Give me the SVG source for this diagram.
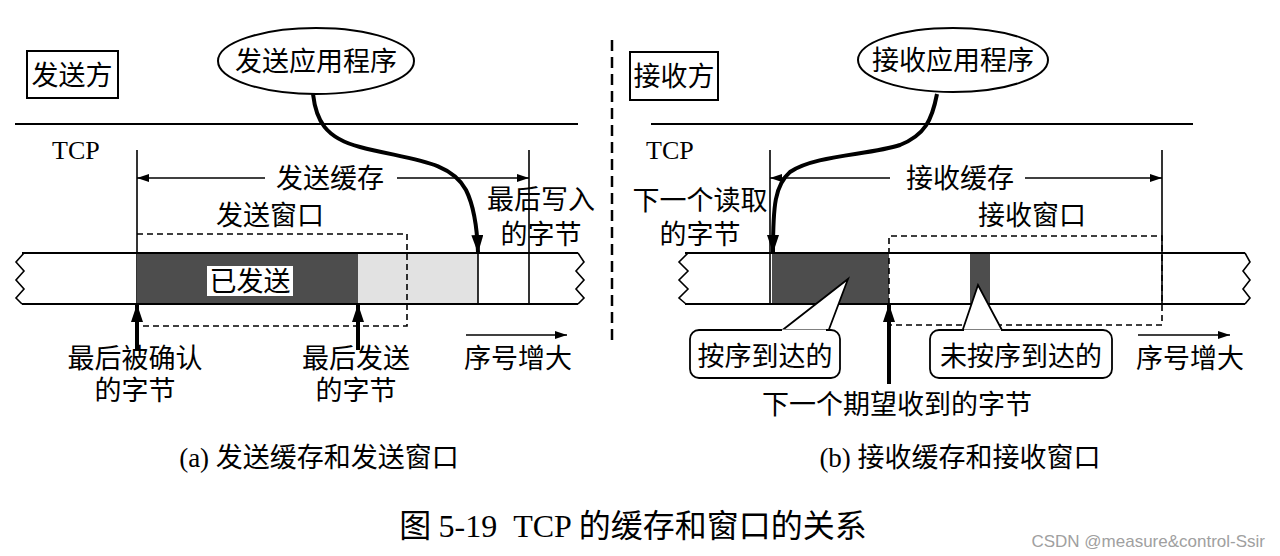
<svg xmlns="http://www.w3.org/2000/svg" width="1280" height="556" viewBox="0 0 1280 556">
<style>
.bg{fill:#fff}
.ln{stroke:#000;stroke-width:2;fill:none}
.thin{stroke:#000;stroke-width:1.6;fill:none}
.dash{stroke:#000;stroke-width:1.6;fill:none;stroke-dasharray:6 4}
.thick{stroke:#000;stroke-width:4;fill:none}
.cn{font-family:"Noto Sans CJK SC","Noto Sans CJK JP",sans-serif;font-size:27px;fill:#000;text-anchor:middle}
.tm{font-family:"Liberation Serif",serif;font-size:26px;fill:#000}
.cap{font-size:27px;fill:#000;text-anchor:middle}
.f-cn{font-family:"Noto Sans CJK SC","Noto Sans CJK JP",sans-serif}
.f-tm{font-family:"Liberation Serif",serif}
.dark{fill:#4d4d4d}
.light{fill:#e2e2e2}
.call{fill:#fff;stroke:#000;stroke-width:1.8}
</style>
<defs>
<marker id="ah" markerUnits="userSpaceOnUse" markerWidth="12" markerHeight="8" refX="12" refY="4" orient="auto-start-reverse"><path d="M0,0 L12,4 L0,8 z" fill="#000"/></marker>
<marker id="big" markerUnits="userSpaceOnUse" markerWidth="18" markerHeight="12" refX="17" refY="6" orient="auto"><path d="M0,0 L18,6 L0,12 z" fill="#000"/></marker>
</defs>
<rect class="bg" x="0" y="0" width="1280" height="556"/>

<!-- divider -->
<line x1="612" y1="40" x2="612" y2="342" stroke="#000" stroke-width="2.5" stroke-dasharray="11 6"/>

<!-- LEFT: sender -->
<g id="sender-box">
<rect x="27" y="51" width="91" height="47" class="ln"/>
<text x="72" y="85" class="cn">发送方</text>
</g>
<g id="send-app">
<ellipse cx="316" cy="61" rx="98" ry="33" class="ln"/>
<text x="316" y="71" class="cn">发送应用程序</text>
</g>
<g id="sender-layer">
<line x1="15" y1="124" x2="578" y2="124" class="ln"/>
<text x="52" y="159" class="tm">TCP</text>
</g>
<g id="send-buffer">
<line x1="137" y1="150" x2="137" y2="304" class="thin"/>
<line x1="529" y1="150" x2="529" y2="304" class="thin"/>
<line x1="137" y1="178" x2="265" y2="178" class="thin" marker-start="url(#ah)"/>
<line x1="397" y1="178" x2="529" y2="178" class="thin" marker-end="url(#ah)"/>
<text x="330" y="188" class="cn">发送缓存</text>
<text x="270" y="225" class="cn">发送窗口</text>
<text x="541" y="209" class="cn"><tspan x="541">最后写入</tspan><tspan x="541" dy="35">的字节</tspan></text>
</g>
<g id="send-strip">
<rect x="137" y="253" width="221" height="51" class="dark"/>
<rect x="358" y="253" width="120" height="51" class="light"/>
<line x1="22" y1="253" x2="578" y2="253" class="ln"/>
<line x1="22" y1="304" x2="578" y2="304" class="ln"/>
<polyline points="24,253 16,262 24,271 16,280 24,289 16,298 22,304" class="thin"/>
<polyline points="578,253 584,262 576,271 584,280 576,289 584,298 578,304" class="thin"/>
<line x1="478" y1="253" x2="478" y2="304" class="thin"/>
<rect x="207" y="266" width="86" height="30" fill="#fff"/>
<text x="250" y="291" class="cn">已发送</text>
<path d="M137,234 H407 V326 H137" class="dash"/>
</g>
<g id="send-labels">
<text x="135" y="368" class="cn"><tspan x="135">最后被确认</tspan><tspan x="135" dy="32">的字节</tspan></text>
<text x="356" y="368" class="cn"><tspan x="356">最后发送</tspan><tspan x="356" dy="32">的字节</tspan></text>
<text x="518" y="368" class="cn">序号增大</text>
<text x="319" y="467" class="cap" xml:space="preserve"><tspan class="f-tm">(a) </tspan><tspan class="f-cn">发送缓存和发送窗口</tspan></text>
</g>

<!-- RIGHT: receiver -->
<g id="receiver-box">
<rect x="630" y="52" width="88" height="48" class="ln"/>
<text x="674" y="86" class="cn">接收方</text>
</g>
<g id="recv-app">
<ellipse cx="953" cy="60" rx="95" ry="32" class="ln"/>
<text x="953" y="70" class="cn">接收应用程序</text>
</g>
<g id="receiver-layer">
<line x1="651" y1="124" x2="1193" y2="124" class="ln"/>
<text x="646" y="159" class="tm">TCP</text>
</g>
<g id="recv-buffer">
<line x1="770" y1="150" x2="770" y2="304" class="thin"/>
<line x1="1162" y1="150" x2="1162" y2="304" class="thin"/>
<line x1="770" y1="178" x2="890" y2="178" class="thin" marker-start="url(#ah)"/>
<line x1="1025" y1="178" x2="1162" y2="178" class="thin" marker-end="url(#ah)"/>
<text x="960" y="188" class="cn">接收缓存</text>
<text x="700" y="210" class="cn"><tspan x="700">下一个读取</tspan><tspan x="700" dy="34">的字节</tspan></text>
<text x="1032" y="225" class="cn">接收窗口</text>
</g>
<g id="recv-strip">
<rect x="772" y="253" width="117" height="51" class="dark"/>
<rect x="970" y="253" width="20" height="51" class="dark"/>
<line x1="685" y1="253" x2="1245" y2="253" class="ln"/>
<line x1="685" y1="304" x2="1245" y2="304" class="ln"/>
<polyline points="688,253 679,262 688,271 679,280 688,289 679,298 686,304" class="thin"/>
<polyline points="1245,253 1250,262 1243,271 1250,280 1243,289 1250,298 1245,304" class="thin"/>
<path d="M889,304 V236 H1162 V325 H889" class="dash"/>
</g>
<g id="callout-inorder">
<path d="M780,332 L848,279 L828,332" class="call"/>
<rect x="690" y="330" width="150" height="48" rx="9" class="call"/>
<line x1="782" y1="331" x2="826" y2="331" stroke="#fff" stroke-width="3"/>
<text x="765" y="366" class="cn">按序到达的</text>
</g>
<g id="callout-outorder">
<path d="M962,332 L978,285 L1003,332" class="call"/>
<rect x="930" y="330" width="182" height="48" rx="9" class="call"/>
<line x1="964" y1="331" x2="1001" y2="331" stroke="#fff" stroke-width="3"/>
<text x="1021" y="366" class="cn">未按序到达的</text>
</g>
<g id="recv-labels">
<text x="1190" y="368" class="cn">序号增大</text>
<text x="897" y="414" class="cn">下一个期望收到的字节</text>
<text x="960" y="467" class="cap" xml:space="preserve"><tspan class="f-tm">(b) </tspan><tspan class="f-cn">接收缓存和接收窗口</tspan></text>
</g>

<!-- connectors -->
<g id="connectors">
<path d="M313,94 C316,120 325,138 360,147 C410,160 450,160 466,190 C474,206 477,225 478,252" class="thick" marker-end="url(#big)"/>
<path d="M937,94 C932,120 925,135 900,145 C870,155 815,155 790,172 C775,185 773,205 773,252" class="thick" marker-end="url(#big)"/>
<line x1="137" y1="350" x2="137" y2="305" class="thick" marker-end="url(#big)"/>
<line x1="358" y1="350" x2="358" y2="305" class="thick" marker-end="url(#big)"/>
<line x1="889" y1="384" x2="889" y2="305" class="thick" marker-end="url(#big)"/>
<line x1="466" y1="335" x2="567" y2="335" class="thin" marker-end="url(#ah)"/>
<line x1="1138" y1="335" x2="1230" y2="335" class="thin" marker-end="url(#ah)"/>
</g>

<text x="633" y="537" style="font-size:32px;fill:#000;text-anchor:middle" xml:space="preserve"><tspan class="f-cn">图 </tspan><tspan class="f-tm">5-19  TCP </tspan><tspan class="f-cn">的缓存和窗口的关系</tspan></text>
<text x="1265" y="547" text-anchor="end" font-family="Liberation Sans,sans-serif" font-size="17" fill="#a0a0a0">CSDN @measure&amp;control-Ssir</text>
</svg>
